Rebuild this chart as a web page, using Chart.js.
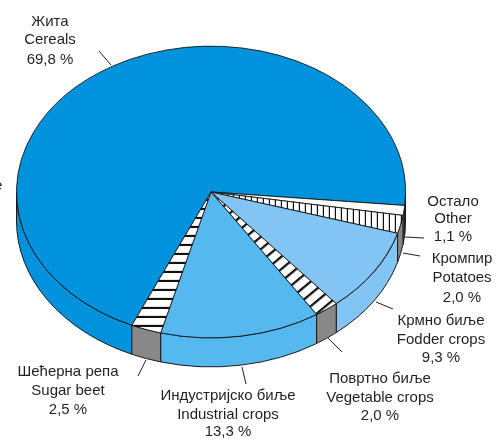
<!DOCTYPE html>
<html>
<head>
<meta charset="utf-8">
<script src="https://cdn.jsdelivr.net/npm/chart.js@4/dist/chart.umd.min.js"></script>
<style>
  html, body { margin: 0; padding: 0; background: #fff; }
  canvas { display: block; }
</style>
</head>
<body>
<canvas id="myChart" width="497" height="439"></canvas>
<script>
// Shares in percent, clockwise from the cereals slice
const categories = ["Cereals", "Other", "Potatoes", "Fodder crops", "Vegetable crops", "Industrial crops", "Sugar beet"];
const values = [69.8, 1.1, 2.0, 9.3, 2.0, 13.3, 2.5];

// Label texts, three lines each
const labelLines = [
  ["Жита", "Cereals", "69,8 %"],
  ["Остало", "Other", "1,1 %"],
  ["Кромпир", "Potatoes", "2,0 %"],
  ["Крмно биље", "Fodder crops", "9,3 %"],
  ["Повртно биље", "Vegetable crops", "2,0 %"],
  ["Индустријско биље", "Industrial crops", "13,3 %"],
  ["Шећерна репа", "Sugar beet", "2,5 %"]
];

// Label placement: centre x and the three baselines
const labelPos = [
  [50, [26, 44, 64]],
  [453, [206, 223, 241]],
  [462, [263, 282, 302]],
  [441, [325, 344, 362]],
  [380, [383, 402, 420]],
  [228, [400, 419, 436]],
  [68, [376, 395, 414]]
];

// Leader lines from slice to label
const leaders = [
  [99, 51, 111, 65],
  [405, 237, 424, 238],
  [403, 253, 420, 256],
  [376, 302, 393, 309],
  [328, 338, 342, 352],
  [242, 367, 246, 384],
  [146, 360, 138, 376]
];

// Squash and thickness of the fake 3D disc
const squash = 0.75;
const depth = 29;
const centerY = 192;
const textColor = "#231f20";

function stripes(period, thick, angle) {
  const c = document.createElement("canvas");
  c.width = 4;
  c.height = period;
  const g = c.getContext("2d");
  g.fillStyle = "#fff";
  g.fillRect(0, 0, 4, period);
  g.fillStyle = "#111";
  g.fillRect(0, 0, 4, thick);
  const p = g.createPattern(c, "repeat");
  p.setTransform(new DOMMatrix().rotate(angle));
  return p;
}

const topColors = [
  "#0092dd",
  "#ffffff",
  stripes(6, 1.2, 90),
  "#82c5f5",
  stripes(11, 2.6, -48),
  "#55b8ee",
  stripes(12, 3, 0)
];
const wallColors = ["#0092dd", "#666666", "#888888", "#82c5f5", "#888888", "#55b8ee", "#888888"];

// Squash the circle into an ellipse while the slices are painted
const squashPlugin = {
  id: "squash",
  beforeDatasetsDraw(chart) {
    const arc = chart.getDatasetMeta(0).data[0];
    const ctx = chart.ctx;
    drawWalls(chart);
    ctx.save();
    ctx.translate(0, centerY);
    ctx.scale(1, squash);
    ctx.translate(0, -arc.y);
  },
  afterDatasetsDraw(chart) {
    chart.ctx.restore();
  },
  afterDraw(chart) {
    drawLabels(chart.ctx);
  }
};

// Side of the disc, only the part of each slice facing the viewer
function drawWalls(chart) {
  const ctx = chart.ctx;
  const full = Math.PI * 2;
  chart.getDatasetMeta(0).data.forEach((arc, i) => {
    const rx = arc.outerRadius;
    const ry = rx * squash;
    [0, full].forEach((from) => {
      const a0 = Math.max(arc.startAngle, from);
      const a1 = Math.min(arc.endAngle, from + Math.PI);
      if (a1 <= a0) return;
      ctx.beginPath();
      ctx.ellipse(arc.x, centerY, rx, ry, 0, a0, a1);
      ctx.ellipse(arc.x, centerY + depth, rx, ry, 0, a1, a0, true);
      ctx.closePath();
      ctx.fillStyle = wallColors[i];
      ctx.fill();
      ctx.strokeStyle = "#1a1a1a";
      ctx.lineWidth = 1;
      ctx.stroke();
    });
  });
}

function drawLabels(ctx) {
  ctx.save();
  ctx.strokeStyle = textColor;
  ctx.lineWidth = 1;
  leaders.forEach((l) => {
    ctx.beginPath();
    ctx.moveTo(l[0], l[1]);
    ctx.lineTo(l[2], l[3]);
    ctx.stroke();
  });
  ctx.fillStyle = textColor;
  ctx.font = "15px 'Liberation Sans'";
  ctx.textAlign = "center";
  labelLines.forEach((lines, i) => {
    lines.forEach((t, j) => {
      ctx.fillText(t, labelPos[i][0], labelPos[i][1][j]);
    });
  });
  // Tail of a label cut off by the image edge
  ctx.textAlign = "left";
  ctx.fillText("e", -6, 190);
  ctx.restore();
}

const ctx = document.getElementById("myChart").getContext("2d");
new Chart(ctx, {
  type: "pie",
  data: {
    labels: categories,
    datasets: [{
      data: values,
      backgroundColor: topColors,
      borderColor: "#111",
      borderWidth: 1,
      hoverOffset: 0
    }]
  },
  options: {
    responsive: false,
    animation: false,
    rotation: 204,
    layout: { padding: { left: 16, right: 91, top: 0, bottom: 49 } },
    plugins: {
      legend: { display: false },
      tooltip: { enabled: false }
    }
  },
  plugins: [squashPlugin]
});
</script>
</body>
</html>
